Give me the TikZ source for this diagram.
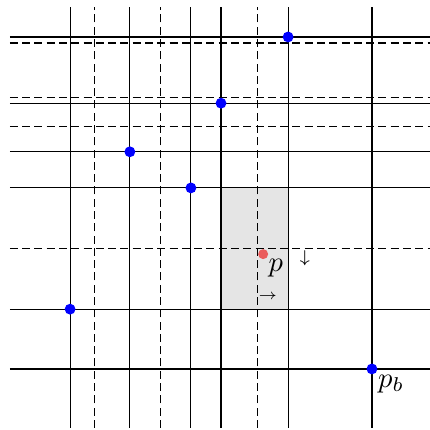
\documentclass[tikz,border=0pt]{standalone}
\usepackage{amsmath}
\usepackage{amssymb}

\definecolor{ptred}{RGB}{234,92,92}

\tikzset{
    gridline/.style={black, line width=0.4pt},
    gridcut/.style={black, line width=0.4pt, dash pattern=on 2.8pt off 1.5pt},
    site/.style={circle, fill=blue, inner sep=0pt, minimum size=3.8pt},
    query/.style={circle, fill=ptred, inner sep=0pt, minimum size=3.5pt},
}

\begin{document}
\begin{tikzpicture}[x=15.05pt, y=15.05pt]
    \useasboundingbox (0,0) rectangle (10,10);

    % Cell of p
    \fill[black!10] (5.14,2.81) rectangle (6.70,5.63);

    % Grid lines
    \foreach \x in {1.63, 3.02, 4.44, 5.14, 6.70, 8.65}
        \draw[gridline] (\x,0.05) -- (\x,9.84);
    \foreach \x in {2.19, 3.74, 5.98}
        \draw[gridcut] (\x,0.05) -- (\x,9.84);
    \foreach \y in {9.14, 7.60, 6.47, 5.63, 2.81, 1.42}
        \draw[gridline] (0.23,\y) -- (10,\y);
    \foreach \y in {9.00, 7.74, 7.05, 4.23}
        \draw[gridcut] (0.23,\y) -- (10,\y);

    % Sites
    \node[site] (s1) at (6.70,9.14) {};
    \node[site] (s2) at (5.14,7.60) {};
    \node[site] (s3) at (3.02,6.47) {};
    \node[site] (s4) at (4.44,5.63) {};
    \node[site] (s5) at (1.63,2.81) {};
    \node[site] (pb) at (8.65,1.42) {};
    \node[anchor=north west, inner sep=0.5pt] at (pb.south east) {$p_b$};

    % Query point
    \node[query] (p) at (6.12,4.09) {};
    \node[anchor=north west, inner sep=0.3pt] at (p.south east) {$p$};
    \node[font=\fontsize{6}{7}\selectfont] (down) at (7.09,4.0) {$\downarrow$};
    \node[font=\tiny] (right) at (6.23,3.09) {$\rightarrow$};
\end{tikzpicture}
\end{document}
